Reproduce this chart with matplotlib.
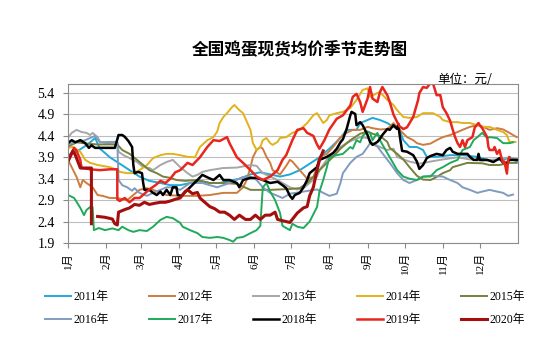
import numpy as np
import matplotlib.pyplot as plt

plt.rcParams['font.family'] = ['Liberation Serif', 'Noto Sans CJK SC']

# day of year, price (yuan/jin)
d2011 = [1, 9, 17, 23, 27, 35, 43, 51, 59, 67, 76, 84, 92, 100, 108, 116, 124, 132, 140, 149, 157, 165, 173, 181,
         189, 197, 205, 213, 222, 227, 235, 238, 244, 248, 254, 260, 265, 270, 273, 278, 284, 289, 292, 300, 311,
         321, 333, 341, 354, 359, 365]
v2011 = [3.95, 4.05, 4.2, 4.35, 4.1, 3.9, 3.75, 3.6, 3.45, 3.35, 3.3, 3.25, 3.25, 3.3, 3.35, 3.3, 3.3, 3.35, 3.4,
         3.5, 3.55, 3.5, 3.45, 3.5, 3.6, 3.75, 3.9, 4.1, 4.35, 4.54, 4.54, 4.7, 4.77, 4.82, 4.77, 4.7, 4.61, 4.54,
         4.3, 4.14, 4.14, 4.07, 3.91, 3.91, 3.95, 3.95, 3.91, 3.84, 3.84, 3.9, 3.8]

d2012 = [1, 4, 8, 11, 13, 16, 21, 25, 29, 35, 41, 49, 54, 59, 65, 70, 76, 81, 92, 106, 116, 127, 138, 143, 146,
         149, 151, 154, 157, 159, 162, 165, 167, 173, 178, 181, 183, 189, 195, 200, 203, 205, 211, 216, 222, 227,
         232, 238, 244, 248, 254, 260, 265, 268, 270, 276, 281, 284, 289, 295, 300, 305, 311, 317, 321, 327, 333,
         337, 343, 349, 354, 359, 365]
v2012 = [3.84, 3.67, 3.44, 3.2, 3.37, 3.3, 3.2, 3.02, 3.0, 2.95, 2.95, 2.9, 3.02, 3.14, 3.18, 3.14, 3.07, 3.02,
         3.0, 3.0, 3.02, 3.07, 3.07, 3.2, 3.37, 3.67, 3.9, 4.07, 4.14, 4.1, 3.91, 3.77, 3.6, 3.5, 3.7, 3.84, 3.8,
         3.6, 3.4, 3.44, 3.67, 3.91, 3.98, 4.14, 4.37, 4.47, 4.54, 4.54, 4.61, 4.58, 4.55, 4.56, 4.7, 4.6, 4.54,
         4.37, 4.3, 4.23, 4.19, 4.22, 4.3, 4.37, 4.42, 4.49, 4.54, 4.61, 4.65, 4.62, 4.54, 4.58, 4.55, 4.47, 4.37]

d2013 = [1, 4, 8, 12, 16, 19, 21, 25, 27, 33, 41, 42, 46, 51, 57, 62, 67, 70, 76, 81, 86, 92, 98, 102, 106, 110,
         116, 127, 138, 149, 154, 159, 165, 171, 175, 181, 187, 192, 197, 203, 205, 211, 216, 222, 227, 232, 238,
         244, 248, 254, 260, 265, 268, 273, 278, 286, 295, 305, 317, 327, 337, 349, 359, 365]
v2013 = [4.35, 4.47, 4.54, 4.49, 4.47, 4.42, 4.47, 4.37, 4.26, 4.23, 4.25, 4.03, 3.95, 3.88, 3.79, 3.67, 3.65,
         3.6, 3.72, 3.79, 3.84, 3.67, 3.53, 3.45, 3.49, 3.56, 3.6, 3.65, 3.66, 3.72, 3.7, 3.53, 3.45, 3.37, 3.3,
         3.2, 3.15, 3.18, 3.3, 3.45, 3.6, 3.85, 3.95, 4.14, 4.23, 4.3, 4.37, 4.35, 4.23, 4.14, 4.07, 4.1, 3.91,
         3.85, 3.8, 3.75, 3.8, 3.85, 3.9, 3.85, 3.82, 3.85, 3.9, 3.85]

d2014 = [1, 5, 11, 15, 19, 25, 35, 41, 43, 49, 54, 59, 65, 70, 76, 81, 86, 92, 98, 104, 108, 114, 119, 122, 124,
         127, 130, 134, 136, 140, 143, 149, 151, 154, 157, 159, 162, 165, 167, 171, 173, 178, 183, 189, 195, 200,
         203, 205, 208, 211, 213, 219, 224, 230, 235, 240, 244, 246, 252, 254, 260, 265, 268, 273, 278, 284, 289,
         297, 303, 305, 311, 317, 321, 327, 333, 337, 343, 349, 354, 357, 359, 364]
v2014 = [4.12, 4.14, 4.03, 3.84, 3.77, 3.72, 3.67, 3.6, 3.56, 3.53, 3.53, 3.6, 3.72, 3.88, 3.95, 3.98, 3.98, 3.95,
         3.91, 3.9, 4.14, 4.3, 4.37, 4.5, 4.7, 4.84, 4.93, 5.07, 5.12, 5.0, 4.93, 4.54, 4.23, 4.07, 4.14, 4.3, 4.35,
         4.23, 4.19, 4.26, 4.35, 4.37, 4.47, 4.54, 4.7, 4.88, 4.93, 4.84, 4.7, 4.77, 4.88, 4.93, 4.96, 5.05, 5.24,
         5.47, 5.51, 5.31, 5.4, 5.42, 5.24, 5.12, 5.0, 4.84, 4.82, 4.84, 4.93, 4.93, 4.84, 4.77, 4.72, 4.72, 4.7,
         4.7, 4.65, 4.61, 4.61, 4.54, 4.49, 4.42, 4.26, 4.26]

d2015 = [1, 8, 16, 25, 35, 41, 45, 51, 57, 62, 67, 73, 78, 84, 89, 96, 106, 116, 127, 138, 149, 157, 165, 173,
         181, 189, 195, 200, 205, 211, 216, 222, 230, 238, 244, 248, 254, 260, 262, 268, 273, 278, 284, 289, 295,
         300, 305, 311, 313, 319, 325, 337, 343, 351, 359, 365]
v2015 = [4.15, 4.25, 4.22, 4.2, 4.2, 4.2, 4.07, 3.98, 3.84, 3.72, 3.6, 3.53, 3.45, 3.42, 3.37, 3.35, 3.37, 3.3,
         3.3, 3.28, 3.14, 3.14, 3.14, 3.15, 3.16, 3.18, 3.3, 3.44, 3.6, 3.77, 3.91, 4.1, 4.3, 4.45, 4.5, 4.45, 4.4,
         4.26, 4.12, 3.98, 3.85, 3.67, 3.47, 3.38, 3.37, 3.44, 3.53, 3.6, 3.67, 3.72, 3.77, 3.76, 3.72, 3.72, 3.77,
         3.77]

d2016 = [1, 7, 15, 19, 23, 27, 35, 41, 42, 45, 49, 53, 55, 59, 65, 70, 76, 81, 86, 92, 100, 110, 122, 132, 143,
         149, 154, 159, 165, 171, 175, 181, 192, 203, 208, 213, 219, 222, 224, 230, 235, 240, 244, 246, 252, 254,
         262, 268, 273, 278, 284, 289, 295, 305, 311, 317, 321, 327, 333, 337, 343, 349, 354, 358, 362]
v2016 = [4.2, 4.25, 4.3, 4.35, 4.4, 4.25, 4.26, 4.26, 3.37, 3.25, 3.2, 3.12, 3.18, 3.07, 3.0, 3.07, 3.14, 3.2,
         3.2, 3.14, 3.3, 3.3, 3.2, 3.3, 3.44, 3.44, 3.37, 3.2, 3.07, 3.0, 2.95, 3.05, 3.1, 3.15, 3.07, 3.0, 3.05,
         3.3, 3.53, 3.77, 3.91, 3.98, 4.14, 4.23, 4.15, 4.07, 3.77, 3.53, 3.37, 3.3, 3.37, 3.45, 3.47, 3.45, 3.37,
         3.3, 3.2, 3.14, 3.07, 3.1, 3.14, 3.1, 3.07, 3.0, 3.03]

d2017 = [1, 6, 8, 11, 14, 16, 19, 21, 22, 26, 31, 37, 42, 45, 50, 54, 59, 65, 70, 76, 81, 86, 92, 94, 100, 106,
         110, 116, 122, 127, 132, 135, 138, 143, 149, 154, 157, 159, 162, 165, 169, 173, 175, 181, 183, 187, 192,
         197, 203, 205, 208, 211, 213, 219, 224, 230, 232, 235, 238, 240, 244, 246, 248, 252, 254, 260, 265, 268,
         273, 278, 284, 289, 295, 300, 305, 311, 317, 321, 327, 330, 333, 337, 341, 343, 349, 354, 359, 362]
v2017 = [3.02, 2.95, 2.86, 2.72, 2.55, 2.67, 2.74, 2.74, 2.2, 2.25, 2.2, 2.24, 2.2, 2.28, 2.2, 2.16, 2.2, 2.18,
         2.28, 2.44, 2.51, 2.48, 2.37, 2.28, 2.2, 2.13, 2.04, 2.02, 2.04, 2.02, 1.97, 1.93, 2.02, 2.04, 2.13, 2.2,
         2.3, 3.2, 3.3, 3.1, 2.9, 2.6, 2.3, 2.2, 2.35, 2.28, 2.25, 2.4, 2.74, 3.1, 3.37, 3.67, 3.9, 3.95, 3.98,
         4.14, 4.1, 4.3, 4.25, 4.4, 4.5, 4.47, 4.3, 4.47, 4.3, 4.0, 3.75, 3.6, 3.45, 3.4, 3.37, 3.45, 3.45, 3.6,
         3.67, 3.77, 3.84, 4.07, 4.14, 4.3, 4.37, 4.47, 4.35, 4.37, 4.35, 4.23, 4.23, 4.25]

d2018 = [1, 4, 7, 11, 15, 18, 20, 23, 31, 39, 42, 45, 47, 50, 53, 54, 55, 58, 61, 62, 63, 67, 70, 73, 76, 78, 81,
         84, 86, 89, 90, 93, 100, 106, 110, 115, 119, 122, 124, 127, 132, 138, 140, 143, 149, 154, 159, 165, 171,
         175, 178, 181, 183, 185, 189, 192, 195, 197, 200, 203, 205, 211, 216, 219, 222, 224, 227, 230, 231, 234,
         235, 238, 240, 244, 246, 248, 252, 254, 256, 260, 262, 265, 268, 269, 270, 272, 276, 281, 284, 286, 289,
         292, 295, 300, 305, 308, 311, 313, 317, 325, 327, 330, 333, 334, 335, 341, 346, 349, 351, 354, 357, 359,
         365]
v2018 = [4.23, 4.3, 4.25, 4.3, 4.23, 4.12, 4.18, 4.12, 4.12, 4.12, 4.42, 4.42, 4.38, 4.28, 4.14, 3.72, 3.53, 3.56,
         3.53, 3.3, 3.14, 3.14, 3.07, 3.02, 3.1, 3.02, 3.14, 3.02, 3.2, 3.2, 3.02, 3.0, 3.2, 3.37, 3.49, 3.42,
         3.37, 3.44, 3.49, 3.37, 3.37, 3.3, 3.2, 3.37, 3.42, 3.42, 3.37, 3.3, 3.33, 3.25, 3.18, 3.0, 2.93, 3.02,
         3.07, 3.2, 3.37, 3.53, 3.6, 3.67, 3.84, 3.91, 4.0, 4.1, 4.25, 4.32, 4.56, 4.88, 4.96, 4.91, 4.65, 4.72,
         4.65, 4.42, 4.26, 4.19, 4.26, 4.33, 4.42, 4.56, 4.54, 4.65, 4.56, 4.68, 4.42, 4.05, 4.03, 3.95, 3.8, 3.63,
         3.72, 3.88, 3.93, 3.98, 3.95, 4.07, 4.12, 4.03, 3.98, 3.98, 3.91, 3.84, 3.84, 3.98, 3.84, 3.84, 3.79,
         3.84, 3.88, 3.77, 3.77, 3.84, 3.84]

d2019 = [1, 3, 6, 8, 11, 12, 19, 27, 35, 41, 41, 43, 47, 51, 55, 59, 63, 67, 72, 76, 80, 84, 88, 92, 98, 102,
         108, 114, 119, 124, 130, 132, 138, 143, 149, 154, 159, 165, 171, 175, 178, 183, 187, 192, 195, 200, 203,
         205, 209, 213, 219, 224, 230, 232, 235, 238, 240, 244, 246, 248, 252, 254, 256, 260, 262, 265, 268, 270,
         273, 276, 281, 285, 286, 289, 292, 295, 297, 300, 303, 305, 308, 311, 313, 315, 317, 319, 321, 323, 325,
         329, 331, 334, 335, 337, 341, 342, 343, 346, 347, 349, 351, 353, 354, 355, 357, 358, 359]
v2019 = [3.9, 3.95, 4.12, 4.05, 3.84, 3.65, 3.62, 3.6, 3.62, 3.62, 2.92, 2.88, 2.95, 2.85, 2.95, 2.95, 3.05, 3.15,
         3.25, 3.35, 3.3, 3.4, 3.55, 3.6, 3.77, 3.72, 3.9, 4.14, 4.3, 4.28, 4.37, 4.23, 3.9, 3.77, 3.6, 3.45, 3.37,
         3.45, 3.6, 3.84, 3.95, 4.3, 4.54, 4.58, 4.47, 4.4, 4.2, 4.1, 4.3, 4.55, 4.8, 4.88, 5.11, 5.31, 5.38, 5.19,
         4.96, 5.27, 5.54, 5.27, 5.19, 5.42, 5.54, 5.35, 5.19, 4.9, 4.72, 4.62, 4.56, 4.6, 4.84, 5.24, 5.4, 5.54,
         5.52, 5.63, 5.63, 5.35, 5.35, 5.07, 4.93, 4.75, 4.55, 4.37, 4.23, 4.14, 4.3, 4.14, 4.3, 4.37, 4.6, 4.7,
         4.65, 4.58, 4.37, 4.14, 4.07, 4.07, 4.14, 3.98, 4.07, 3.84, 3.77, 3.8, 3.52, 3.84, 3.9]

d2020 = [1, 5, 7, 11, 17, 20, 20, 22, 25, 31, 37, 39, 41, 42, 47, 51, 55, 59, 63, 67, 72, 76, 80, 84, 88, 92, 96,
         98, 102, 106, 108, 112, 116, 120, 124, 128, 132, 136, 140, 145, 149, 153, 157, 161, 165, 169, 171, 175,
         181, 187, 192, 195, 197, 200, 203, 205, 208]
v2020 = [3.8, 4.05, 3.95, 3.65, 3.65, 3.65, 2.35, np.nan, 2.52, 2.5, 2.46, 2.35, 2.32, 2.62, 2.68, 2.72, 2.8,
         2.78, 2.85, 2.8, 2.83, 2.85, 2.85, 2.88, 2.92, 2.95, 3.1, 3.14, 3.05, 3.08, 2.95, 2.85, 2.75, 2.7, 2.62,
         2.62, 2.55, 2.45, 2.55, 2.45, 2.45, 2.55, 2.45, 2.55, 2.55, 2.62, 2.45, 2.42, 2.38, 2.6, 2.72, 2.75, 3.0,
         3.2, 3.6, 3.84, 4.05]

series = [
    ('2011年', d2011, v2011, '#22A7D9', 1.4),
    ('2012年', d2012, v2012, '#CD7C3F', 1.4),
    ('2013年', d2013, v2013, '#A6A6A6', 1.4),
    ('2014年', d2014, v2014, '#E2B21C', 1.4),
    ('2015年', d2015, v2015, '#78803C', 1.4),
    ('2016年', d2016, v2016, '#7F9CC0', 1.4),
    ('2017年', d2017, v2017, '#1FAA5A', 1.4),
    ('2018年', d2018, v2018, '#000000', 1.8),
    ('2019年', d2019, v2019, '#E8261E', 1.8),
    ('2020年', d2020, v2020, '#A50E0E', 2.2),
]

month_days = [1, 32, 60, 91, 121, 152, 182, 213, 244, 274, 305, 335]
month_labels = ['1月', '2月', '3月', '4月', '5月', '6月', '7月', '8月', '9月', '10月', '11月', '12月']
yticks = [1.9, 2.4, 2.9, 3.4, 3.9, 4.4, 4.9, 5.4]

fig = plt.figure(figsize=(5.5, 3.56), dpi=100)
ax = fig.add_axes([0.1236, 0.3174, 0.8182, 0.4466])

lines = []
for name, d, v, c, lw in series:
    ln, = ax.plot(d, v, color=c, lw=lw, label=name, solid_joinstyle='round')
    lines.append(ln)

ax.set_xlim(1, 366)
ax.set_ylim(1.9, 5.61)
ax.set_yticks(yticks)
ax.set_yticklabels([f'{t:.1f}' for t in yticks], fontsize=10)
ax.set_xticks(month_days)
ax.set_xticklabels(month_labels, rotation=90, fontsize=8)
ax.yaxis.grid(True, color='#BEBEBE', lw=0.8)
ax.set_axisbelow(True)
ax.tick_params(axis='both', direction='out', length=3.5, color='#888888', width=0.8)
ax.tick_params(axis='y', pad=6)
ax.tick_params(axis='x', pad=3)
for s in ax.spines.values():
    s.set_color('#8C8C8C')
    s.set_linewidth(0.8)

fig.text(0.545, 0.86, '全国鸡蛋现货均价季节走势图', ha='center', va='center',
         fontsize=12, fontweight='bold', family='Noto Sans CJK SC')
fig.text(0.795, 0.778, '单位：元/', ha='left', va='center', fontsize=9, family='Noto Sans CJK SC')

# legend is filled column by column, so reorder for rows 2011-2015 / 2016-2020
order = [0, 5, 1, 6, 2, 7, 3, 8, 4, 9]
fig.legend([lines[i] for i in order], [series[i][0] for i in order], ncol=5, loc='center',
           bbox_to_anchor=(0.518, 0.133), frameon=False, fontsize=8.5, handlelength=2.2,
           handletextpad=0.2, columnspacing=3.4, labelspacing=0.95)

plt.savefig('out.png', dpi=100)
plt.close()
